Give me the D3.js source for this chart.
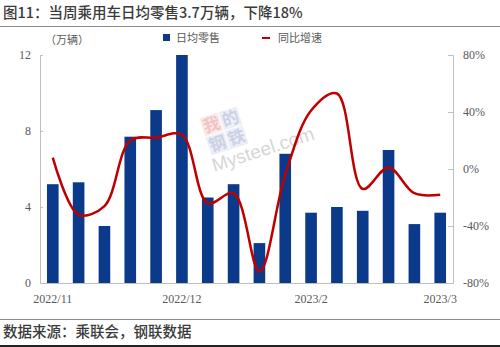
<!DOCTYPE html>
<html>
<head>
<meta charset="utf-8">
<script src="https://cdn.jsdelivr.net/npm/d3@7"></script>
<style>
  body { margin: 0; background: #fff; }
  svg { display: block; }
  .tick text { font-family: "Liberation Serif", serif; font-size: 12px; fill: #595959; }
</style>
</head>
<body>
<div id="chart-area"></div>
<script>
// weekly data, 16 weeks
var weeks = ["w1","w2","w3","w4","w5","w6","w7","w8","w9","w10","w11","w12","w13","w14","w15","w16"];
var weekLabels = {"w1": "2022/11", "w6": "2022/12", "w11": "2023/2", "w16": "2023/3"};
var dailyRetail = [5.2, 5.3, 3.0, 7.7, 9.1, 12.0, 4.5, 5.2, 2.1, 6.8, 3.7, 4.0, 3.8, 7.0, 3.1, 3.7];
var yoyGrowth = [8, -32, -26, 20, 22, 24, -24, -17, -72, -4, 41, 53, -14, 1, -17, -18];
var leftTicks = [0, 4, 8, 12];
var rightTicks = [-80, -40, 0, 40, 80];

var W = 500, H = 347;
var margin = {top: 55, right: 47, bottom: 64, left: 40},
    width = W - margin.left - margin.right,
    height = H - margin.top - margin.bottom;

var root = d3.select("#chart-area")
    .append("svg")
    .attr("width", W)
    .attr("height", H);

// title + footer
root.append("text")
    .attr("x", 3).attr("y", 18)
    .style("font-family", "Noto Sans CJK SC")
    .style("font-size", "14.5px")
    .style("font-weight", "500")
    .style("fill", "#3a3a3a")
    .text("图11：当周乘用车日均零售3.7万辆，下降18%");
root.append("line")
    .attr("x1", 0).attr("x2", W).attr("y1", 26.5).attr("y2", 26.5)
    .attr("stroke", "#8c8c8c").attr("stroke-width", 1);
root.append("line")
    .attr("x1", 0).attr("x2", W).attr("y1", 319.5).attr("y2", 319.5)
    .attr("stroke", "#8c8c8c").attr("stroke-width", 1);
root.append("text")
    .attr("x", 3).attr("y", 337)
    .style("font-family", "Noto Sans CJK SC")
    .style("font-size", "14.5px")
    .style("font-weight", "500")
    .style("fill", "#3a3a3a")
    .text("数据来源：乘联会，钢联数据");
root.append("line")
    .attr("x1", 0).attr("x2", W).attr("y1", 346).attr("y2", 346)
    .attr("stroke", "#222").attr("stroke-width", 2);

var svg = root.append("g")
    .attr("transform", "translate(" + margin.left + "," + margin.top + ")");

var xScale = d3.scaleBand()
    .domain(weeks)
    .range([0, width])
    .paddingInner(0.55)
    .paddingOuter(0.27);

var yLeft = d3.scaleLinear().domain([0, 12]).range([height, 0]);
var yRight = d3.scaleLinear().domain([-80, 80]).range([height, 0]);

// watermark
var wm = svg.append("g")
    .attr("transform", "translate(184,76) rotate(-18)")
    .style("opacity", 0.4);
[["我", -10, -10, "#e36a6a"], ["的", 10, -10, "#7f8fc0"], ["钢", -10, 10, "#7f8fc0"], ["铁", 10, 10, "#7f8fc0"]]
    .forEach(function(c) {
        wm.append("rect").attr("x", c[1] - 9.5).attr("y", c[2] - 9.5)
            .attr("width", 19).attr("height", 19).attr("fill", c[3]).style("opacity", 0.35);
        wm.append("text").attr("x", c[1]).attr("y", c[2] + 6)
            .attr("text-anchor", "middle")
            .style("font-family", "Noto Sans CJK SC").style("font-size", "17px").style("font-weight", "bold")
            .style("fill", c[3]).text(c[0]);
    });
wm.append("text").attr("x", -22).attr("y", 36)
    .style("font-family", "Liberation Sans").style("font-size", "19px")
    .style("fill", "#999").text("Mysteel.com");

// bars
svg.selectAll("rect.bar")
    .data(dailyRetail)
    .enter()
    .append("rect")
    .attr("class", "bar")
    .attr("x", (d, i) => xScale(weeks[i]))
    .attr("y", d => yLeft(d))
    .attr("width", xScale.bandwidth())
    .attr("height", d => height - yLeft(d))
    .attr("fill", "#0b3a8a");

// axes
var leftAxis = svg.append("g")
    .call(d3.axisLeft(yLeft).tickValues(leftTicks).tickSize(-3).tickPadding(9));
var rightAxis = svg.append("g")
    .attr("transform", "translate(" + width + ",0)")
    .call(d3.axisRight(yRight).tickValues(rightTicks).tickSize(-5).tickPadding(10)
        .tickFormat(d => d + "%"));
var xAxis = svg.append("g")
    .attr("transform", "translate(0," + height + ")")
    .call(d3.axisBottom(xScale).tickSize(0).tickPadding(11)
        .tickFormat(d => weekLabels[d] || ""));
[leftAxis, rightAxis, xAxis].forEach(function(g) {
    g.selectAll("path.domain").attr("stroke", "#bfbfbf");
    g.selectAll(".tick line").attr("stroke", "#bfbfbf");
});

// line
var line = d3.line()
    .x((d, i) => xScale(weeks[i]) + xScale.bandwidth() / 2)
    .y(d => yRight(d))
    .curve(d3.curveCatmullRom.alpha(0.5));
svg.append("path")
    .datum(yoyGrowth)
    .attr("fill", "none")
    .attr("stroke", "#c00000")
    .attr("stroke-width", 2.5)
    .attr("d", line);

// unit + legend
svg.append("text")
    .attr("x", 5).attr("y", -11)
    .style("font-family", "Noto Sans CJK SC").style("font-size", "11px")
    .style("fill", "#595959")
    .text("（万辆）");
var legend = svg.append("g").attr("transform", "translate(0,-17)");
legend.append("rect")
    .attr("x", 123).attr("y", -4).attr("width", 7).attr("height", 7)
    .attr("fill", "#0b3a8a");
legend.append("text")
    .attr("x", 136).attr("y", 4)
    .style("font-family", "Noto Sans CJK SC").style("font-size", "11px")
    .style("fill", "#595959").text("日均零售");
legend.append("line")
    .attr("x1", 222).attr("x2", 230).attr("y1", 0).attr("y2", 0)
    .attr("stroke", "#c00000").attr("stroke-width", 2);
legend.append("text")
    .attr("x", 238).attr("y", 4)
    .style("font-family", "Noto Sans CJK SC").style("font-size", "11px")
    .style("fill", "#595959").text("同比增速");
</script>
</body>
</html>
